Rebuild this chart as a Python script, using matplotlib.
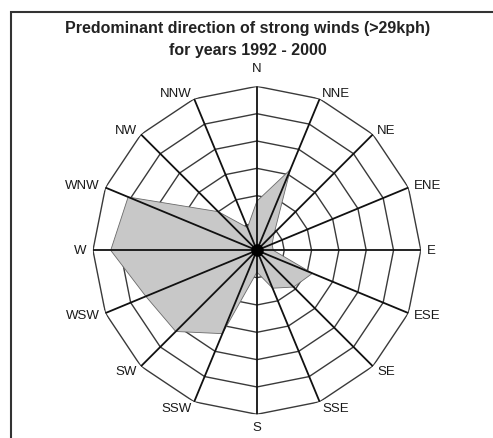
import numpy as np
import matplotlib
matplotlib.use("Agg")
import matplotlib.pyplot as plt
from matplotlib.patches import Rectangle

plt.rcParams['font.family'] = ['Liberation Sans', 'DejaVu Sans']

# wind directions, clockwise from north
directions = ["N", "NNE", "NE", "ENE", "E", "ESE", "SE", "SSE",
              "S", "SSW", "SW", "WSW", "W", "WNW", "NW", "NNW"]
values = [1.8, 3.2, 0.9, 0.6, 0.6, 2.2, 1.9, 1.5,
          0.8, 3.3, 4.2, 4.4, 5.35, 5.1, 2.0, 0.9]
rings = [1, 2, 3, 4, 5, 6]

title1 = "Predominant direction of strong winds (>29kph)"
title2 = "for years 1992 - 2000"

angles = np.radians(np.arange(len(directions)) * 22.5)
closed = np.append(angles, angles[0])

fig = plt.figure(figsize=(4.93, 4.39), dpi=100)
ax = fig.add_axes([0.1866, 0.054, 0.669, 0.747], projection='polar')
ax.set_theta_zero_location('N')
ax.set_theta_direction(-1)
ax.set_ylim(0, rings[-1])
ax.grid(False)
ax.spines['polar'].set_visible(False)
ax.set_xticks([])
ax.set_yticks([])

# polygon rings
for r in rings:
    ax.plot(closed, [r] * len(closed), color='#3a3a3a', lw=1.0, zorder=1)

# shaded data polygon
vals = np.append(values, values[0])
ax.fill(closed, vals, facecolor='#c8c8c8', edgecolor='#6a6a6a', lw=0.6, zorder=2)

# spokes
for a in angles:
    ax.plot([a, a], [0, rings[-1]], color='#111111', lw=1.3, zorder=3)

ax.plot([0], [0], 'o', color='black', ms=8, zorder=4)

# direction labels just outside the spoke ends
for a, lab in zip(angles, directions):
    sx, cy = np.sin(a), np.cos(a)
    ha = 'left' if sx > 0.1 else ('right' if sx < -0.1 else 'center')
    va = 'bottom' if cy > 0.99 else ('top' if cy < -0.99 else 'center')
    pad = 9 if lab == "N" else 4.5
    ax.annotate(lab, xy=(a, rings[-1]), xytext=(pad * sx, pad * cy),
                textcoords='offset points', ha=ha, va=va, fontsize=9.5,
                color='#1a1a1a', annotation_clip=False)

fig.text(0.503, 1 - 29 / 439, title1, ha='center', va='center',
         fontsize=11.5, fontweight='bold', color='#222222')
fig.text(0.503, 1 - 50 / 439, title2, ha='center', va='center',
         fontsize=11.5, fontweight='bold', color='#222222')

top = 1 - 12.5 / 439
fig.patches.append(Rectangle((11 / 493, -0.2), 1.2, top + 0.2,
                             transform=fig.transFigure, fill=False,
                             edgecolor='#333333', lw=1.5))

fig.savefig("out.png", dpi=100)
